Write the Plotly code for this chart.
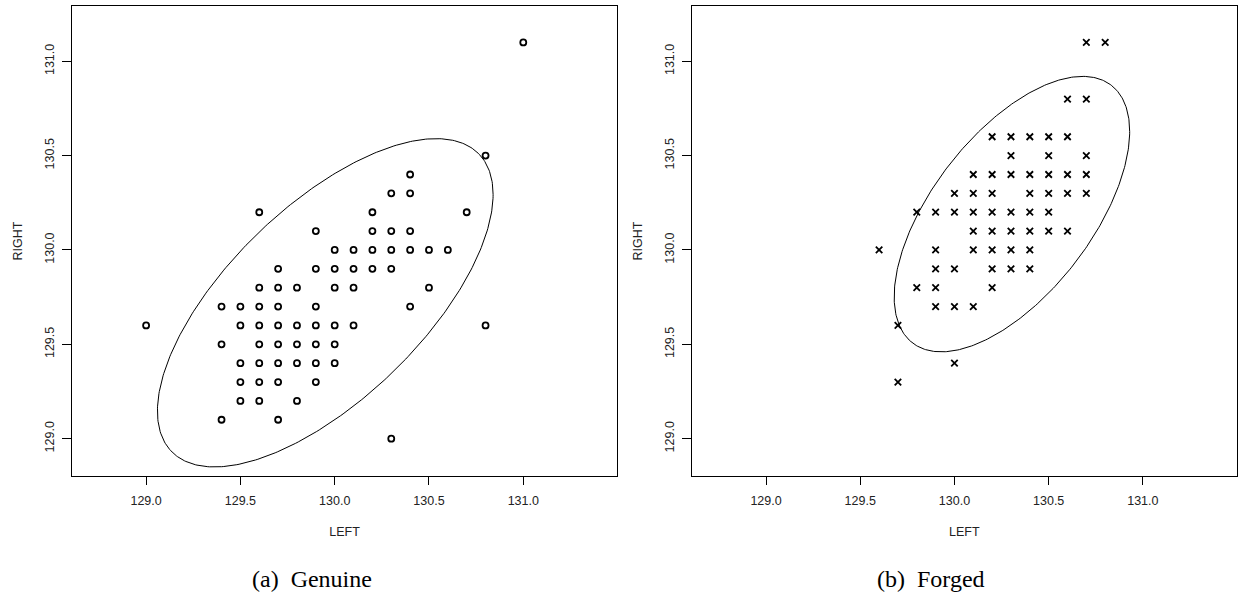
import numpy as np
import plotly.graph_objects as go

# ---------------- data ----------------
# Genuine notes: (LEFT, RIGHT) distinct positions
gen_rows_right = [131.1, 130.5, 130.4, 130.3, 130.2, 130.1, 130.0, 129.9, 129.8,
                  129.7, 129.6, 129.5, 129.4, 129.3, 129.2, 129.1, 129.0]
gen_rows_left = [
    [131.0],
    [130.8],
    [130.4],
    [130.3, 130.4],
    [129.6, 130.2, 130.7],
    [129.9, 130.2, 130.3, 130.4],
    [130.0, 130.1, 130.2, 130.3, 130.4, 130.5, 130.6],
    [129.7, 129.9, 130.0, 130.1, 130.2, 130.3],
    [129.6, 129.7, 129.8, 130.0, 130.1, 130.5],
    [129.4, 129.5, 129.6, 129.7, 129.9, 130.4],
    [129.0, 129.5, 129.6, 129.7, 129.8, 129.9, 130.0, 130.1, 130.8],
    [129.4, 129.6, 129.7, 129.8, 129.9, 130.0],
    [129.5, 129.6, 129.7, 129.8, 129.9, 130.0],
    [129.5, 129.6, 129.7, 129.9],
    [129.5, 129.6, 129.8],
    [129.4, 129.7],
    [130.3],
]

# Forged notes
forg_rows_right = [131.1, 130.8, 130.6, 130.5, 130.4, 130.3, 130.2, 130.1, 130.0,
                   129.9, 129.8, 129.7, 129.6, 129.4, 129.3]
forg_rows_left = [
    [130.7, 130.8],
    [130.6, 130.7],
    [130.2, 130.3, 130.4, 130.5, 130.6],
    [130.3, 130.5, 130.7],
    [130.1, 130.2, 130.3, 130.4, 130.5, 130.6, 130.7],
    [130.0, 130.1, 130.2, 130.4, 130.5, 130.6, 130.7],
    [129.8, 129.9, 130.0, 130.1, 130.2, 130.3, 130.4, 130.5],
    [130.1, 130.2, 130.3, 130.4, 130.5, 130.6],
    [129.6, 129.9, 130.1, 130.2, 130.3, 130.4],
    [129.9, 130.0, 130.2, 130.3, 130.4],
    [129.8, 129.9, 130.2],
    [129.9, 130.0, 130.1],
    [129.7],
    [130.0],
    [129.7],
]

# Ellipse parameters (center, half extents, correlation)
gen_ell = dict(cx=129.95, cy=129.72, ax=0.89, ay=0.87, rho=0.66)
forg_ell = dict(cx=130.305, cy=130.19, ax=0.625, ay=0.73, rho=0.60)

x_ticks = [129.0, 129.5, 130.0, 130.5, 131.0]
y_ticks = [129.0, 129.5, 130.0, 130.5, 131.0]
x_range = [128.607, 131.497]
y_range = [128.802, 131.293]
captions = ["(a)\u2002Genuine", "(b)\u2002Forged"]


def flatten(rows_y, rows_x):
    xs, ys = [], []
    for yv, row in zip(rows_y, rows_x):
        for xv in row:
            xs.append(xv)
            ys.append(yv)
    return xs, ys


def ellipse(p, n=400):
    t = np.linspace(0, 2 * np.pi, n)
    x = p["cx"] + p["ax"] * np.cos(t)
    y = p["cy"] + p["ay"] * (p["rho"] * np.cos(t) + np.sqrt(1 - p["rho"] ** 2) * np.sin(t))
    return x, y


gx, gy = flatten(gen_rows_right, gen_rows_left)
fx, fy = flatten(forg_rows_right, forg_rows_left)
gex, gey = ellipse(gen_ell)
fex, fey = ellipse(forg_ell)

W, H = 1238, 596
fig = go.Figure()

fig.add_trace(go.Scatter(x=gx, y=gy, mode="markers", xaxis="x", yaxis="y",
                         marker=dict(symbol="circle-open", size=6, color="black",
                                     line=dict(width=1.8, color="black")),
                         showlegend=False))
fig.add_trace(go.Scatter(x=gex, y=gey, mode="lines", xaxis="x", yaxis="y",
                         line=dict(color="black", width=1), showlegend=False))
fig.add_trace(go.Scatter(x=fx, y=fy, mode="markers", xaxis="x2", yaxis="y2",
                         marker=dict(symbol="x-thin-open", size=6.5, color="black",
                                     line=dict(width=1.8, color="black")),
                         showlegend=False))
fig.add_trace(go.Scatter(x=fex, y=fey, mode="lines", xaxis="x2", yaxis="y2",
                         line=dict(color="black", width=1), showlegend=False))

tickfont = dict(family="Liberation Sans, Arial, sans-serif", size=12.5, color="#222")
titlefont = dict(family="Liberation Sans, Arial, sans-serif", size=12.5, color="#222")

ydom = [(H - 476) / H, (H - 6) / H]
xdoms = [[72 / W, 617 / W], [692 / W, 1236.5 / W]]


def xaxis(dom, anchor):
    return dict(domain=dom, anchor=anchor, range=x_range, tickvals=x_ticks,
                ticktext=[f"{v:.1f}" for v in x_ticks], ticks="outside", ticklen=8,
                tickwidth=1, tickcolor="black", showline=True, linecolor="black",
                linewidth=1, mirror=True, showgrid=False, zeroline=False,
                tickfont=tickfont, ticklabelstandoff=5,
                title=dict(text="LEFT", font=titlefont, standoff=20))


def yaxis(anchor):
    return dict(domain=ydom, anchor=anchor, range=y_range, tickvals=y_ticks,
                ticktext=[f"{v:.1f}" for v in y_ticks], ticks="outside", ticklen=9,
                tickwidth=1, tickcolor="black", showline=True, linecolor="black",
                linewidth=1, mirror=True, showgrid=False, zeroline=False,
                tickfont=tickfont, tickangle=-90, ticklabelstandoff=3,
                title=dict(text="RIGHT", font=titlefont, standoff=17))


cap_font = dict(family="Liberation Serif, Times New Roman, serif", size=24, color="black")

fig.update_layout(
    width=W, height=H,
    margin=dict(l=0, r=0, t=0, b=0),
    paper_bgcolor="white", plot_bgcolor="white",
    xaxis=xaxis(xdoms[0], "y"), yaxis=yaxis("x"),
    xaxis2=xaxis(xdoms[1], "y2"), yaxis2=yaxis("x2"),
    annotations=[
        dict(text=captions[0], x=312 / W, y=1 - 579 / H, xref="paper", yref="paper",
             showarrow=False, xanchor="center", yanchor="middle", font=cap_font),
        dict(text=captions[1], x=931 / W, y=1 - 579 / H, xref="paper", yref="paper",
             showarrow=False, xanchor="center", yanchor="middle", font=cap_font),
    ],
)

fig.write_html("out.html")
